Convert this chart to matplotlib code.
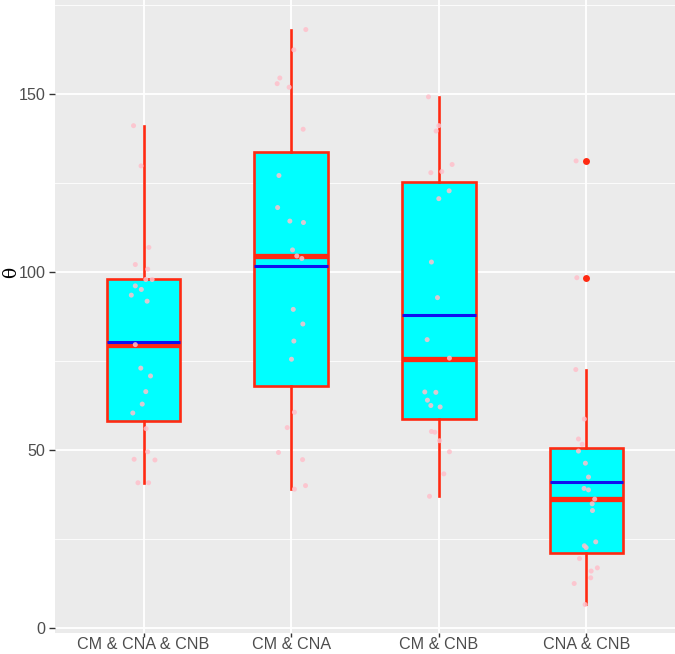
import numpy as np
import matplotlib
matplotlib.use("Agg")
import matplotlib.pyplot as plt
from matplotlib.ticker import MultipleLocator

categories = ["CM & CNA & CNB", "CM & CNA", "CM & CNB", "CNA & CNB"]

# box stats
q1 = [58.2, 68.1, 58.7, 21.0]
medians = [79.4, 104.5, 75.7, 36.2]
q3 = [97.9, 133.6, 125.2, 50.6]
whis_lo = [40.8, 39.0, 37.0, 6.7]
whis_hi = [140.9, 168.0, 149.1, 72.5]
means = [80.4, 101.8, 88.0, 40.9]
outliers = [[], [], [], [131.2, 98.4]]

# jittered raw points (value, horizontal offset)
pts_1 = [141.1, 129.8, 106.9, 102.1, 100.8, 97.9, 97.9, 96.1, 95.1, 93.5, 91.8, 79.6,
         73.0, 70.8, 66.4, 62.9, 60.4, 56.0, 49.5, 47.4, 47.2, 40.8, 40.8]
jit_1 = [-0.068, -0.017, 0.036, -0.056, 0.028, 0.015, 0.058, -0.056, -0.015, -0.083, 0.024, -0.056,
         -0.019, 0.047, 0.015, -0.009, -0.073, 0.017, 0.028, -0.064, 0.077, -0.038, 0.034]
pts_2 = [168.1, 162.4, 154.5, 152.9, 151.9, 140.1, 127.1, 118.1, 114.3, 113.9, 106.2, 104.5,
         103.8, 89.5, 85.4, 80.6, 75.5, 60.6, 56.3, 49.3, 47.3, 40.0, 39.0]
jit_2 = [0.099, 0.018, -0.077, -0.095, -0.014, 0.081, -0.083, -0.092, -0.009, 0.083, 0.009, 0.038,
         0.072, 0.014, 0.079, 0.018, 0.002, 0.022, -0.027, -0.086, 0.077, 0.097, 0.022]
pts_3 = [149.2, 141.1, 139.6, 130.2, 128.2, 127.9, 122.8, 120.6, 102.8, 92.8, 81.0, 75.8,
         66.3, 66.2, 64.0, 62.5, 62.1, 55.2, 55.0, 52.6, 49.5, 43.3, 37.0]
jit_3 = [-0.070, 0.0, -0.018, 0.090, 0.020, -0.054, 0.070, 0.0, -0.050, -0.009, -0.079, 0.072,
         -0.095, -0.020, -0.077, -0.054, 0.009, -0.050, -0.027, 0.005, 0.072, 0.034, -0.063]
pts_4 = [131.2, 98.4, 72.6, 58.7, 53.1, 51.6, 49.7, 46.3, 42.4, 39.2, 38.8, 36.2, 34.9,
         33.0, 24.2, 23.1, 22.6, 19.5, 16.9, 16.0, 14.1, 12.5, 6.6]
jit_4 = [-0.070, -0.065, -0.072, -0.014, -0.054, -0.029, -0.054, -0.007, 0.014, -0.016, 0.014,
         0.056, 0.039, 0.041, 0.063, -0.014, -0.002, -0.047, 0.074, 0.032, 0.029, -0.083, -0.009]

points = [pts_1, pts_2, pts_3, pts_4]
jitter = [jit_1, jit_2, jit_3, jit_4]

BOX_RED = "#FF2A12"

fig = plt.figure(figsize=(6.75, 6.54), dpi=100)
ax = fig.add_axes([55 / 675, 21 / 654, 620 / 675, 633 / 654])
ax.set_facecolor("#EBEBEB")

stats = []
for i in range(4):
    stats.append(dict(med=medians[i], q1=q1[i], q3=q3[i], whislo=whis_lo[i],
                      whishi=whis_hi[i], fliers=outliers[i], mean=means[i],
                      label=categories[i]))

pos = np.arange(1, 5)
ax.bxp(stats, positions=pos, widths=0.5, patch_artist=True, showcaps=False,
       showmeans=True, meanline=True,
       boxprops=dict(facecolor="#00FFFF", edgecolor=BOX_RED, linewidth=1.9),
       whiskerprops=dict(color=BOX_RED, linewidth=1.9),
       medianprops=dict(color=BOX_RED, linewidth=3.8, solid_capstyle="butt"),
       meanprops=dict(color="#1010F0", linestyle="-", linewidth=2.2),
       flierprops=dict(marker="o", markerfacecolor=BOX_RED, markeredgecolor="none",
                       markersize=5.0),
       zorder=3)

for i in range(4):
    xs = pos[i] + np.array(jitter[i])
    ax.scatter(xs, points[i], s=13, color="#FFC0CB", alpha=0.85,
               edgecolors="none", zorder=5)

ax.set_xlim(0.4, 4.6)
ax.set_ylim(-1.4, 176.4)
ax.yaxis.set_major_locator(MultipleLocator(50))
ax.yaxis.set_minor_locator(MultipleLocator(25))
ax.set_xticks(pos)
ax.set_xticklabels(categories)

ax.grid(which="major", color="white", linewidth=1.3, zorder=0)
ax.grid(which="minor", axis="y", color="white", linewidth=0.6, zorder=0)
ax.set_axisbelow(True)
for s in ax.spines.values():
    s.set_visible(False)

ax.tick_params(which="major", length=4, width=1, color="#333333",
               labelcolor="#4D4D4D", labelsize=11.6, pad=3)
ax.tick_params(axis="x", length=3, pad=0)
ax.tick_params(which="minor", length=0)
for lab in ax.get_xticklabels() + ax.get_yticklabels():
    lab.set_fontfamily("Liberation Sans")

fig.text(11 / 675, 1 - 272 / 654, "θ", rotation=90, fontsize=13.5,
         family="DejaVu Serif", ha="center", va="center")

fig.savefig("out.png", dpi=100)
